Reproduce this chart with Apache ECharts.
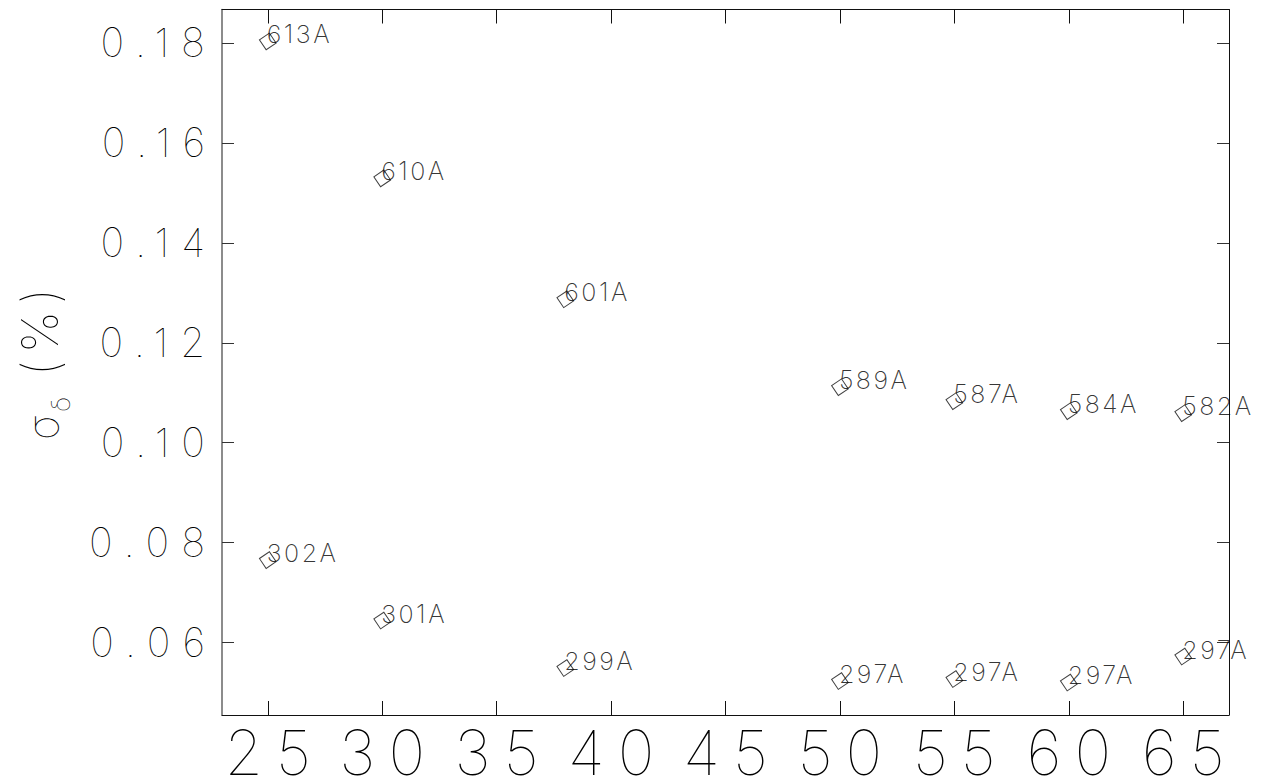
<!DOCTYPE html>
<html>
<head>
<meta charset="utf-8">
<script src="https://cdn.jsdelivr.net/npm/echarts@6/dist/echarts.min.js"></script>
<style>
  html, body { margin: 0; padding: 0; background: #fff; }
  #main { width: 1263px; height: 781px; }
  /* wide, evenly spaced lettering */
  #main text { letter-spacing: 0.1em; }
  #main text[style*="40px"] { letter-spacing: 0.3em; }
  #main text[style*="62px"] { letter-spacing: 0.21em; }
  #main text[style*="50px"] { letter-spacing: 0.14em; }
</style>
</head>
<body>
<div id="main"></div>
<script>
// Beam angle (x) and relative energy spread sigma_delta in % (y), one label per run
const angles = [25, 30, 38, 50, 55, 60, 65];
const upperLabels = ['613A', '610A', '601A', '589A', '587A', '584A', '582A'];
const upperSigma = [0.1803, 0.1529, 0.1287, 0.1111, 0.1083, 0.1063, 0.1059];
const lowerLabels = ['302A', '301A', '299A', '297A', '297A', '297A', '297A'];
const lowerSigma = [0.0765, 0.0644, 0.0549, 0.0523, 0.0527, 0.0520, 0.0572];
const xTicks = [25, 30, 35, 40, 45, 50, 55, 60, 65];
const yTicks = [0.06, 0.08, 0.10, 0.12, 0.14, 0.16, 0.18];

const FONT = 'Inter, "DejaVu Sans", sans-serif';
const INK = '#000';

const chart = echarts.init(document.getElementById('main'), null, { renderer: 'svg' });

function pointSeries(values, labels) {
  return {
    type: 'scatter',
    xAxisIndex: 0,
    yAxisIndex: 0,
    data: angles.map((a, i) => [a, values[i], labels[i]]),
    symbol: 'rect',
    symbolSize: 12,
    symbolRotate: 34,
    itemStyle: { color: 'rgba(255,255,255,0)', borderColor: '#111', borderWidth: 1 },
    label: {
      show: true,
      formatter: p => p.value[2],
      position: [8, 2],
      align: 'left',
      verticalAlign: 'middle',
      fontFamily: FONT,
      fontWeight: 200,
      fontSize: 25,
      color: INK
    },
    emphasis: { disabled: true },
    z: 3
  };
}

const frameX = (pos, showLabel) => ({
  type: 'value',
  position: pos,
  min: 23,
  max: 67,
  axisLine: { show: true, onZero: false, lineStyle: { color: '#111', width: 1 } },
  axisTick: { show: true, inside: true, length: 14, customValues: xTicks, lineStyle: { color: '#111', width: 1 } },
  axisLabel: showLabel ? {
    show: true, customValues: xTicks, margin: 14.5,
    lineHeight: 46, padding: [0, 0, 0, 13],
    fontFamily: FONT, fontWeight: 100, fontSize: 62, color: INK
  } : { show: false },
  splitLine: { show: false }
});

const frameY = (pos, showLabel, lineColor, lineWidth) => ({
  type: 'value',
  position: pos,
  min: 0.0455,
  max: 0.1867,
  axisLine: { show: true, onZero: false, lineStyle: { color: lineColor, width: lineWidth } },
  axisTick: { show: true, inside: true, length: 12, customValues: yTicks, lineStyle: { color: '#333', width: 1 } },
  axisLabel: showLabel ? {
    show: true, customValues: yTicks, margin: 5,
    formatter: v => v.toFixed(2),
    fontFamily: FONT, fontWeight: 120, fontSize: 40, color: INK
  } : { show: false },
  splitLine: { show: false }
});

chart.setOption({
  animation: false,
  backgroundColor: '#fff',
  grid: { left: 222, right: 34, top: 9.5, bottom: 66, containLabel: false, outerBoundsMode: 'none' },
  xAxis: [frameX('bottom', true), frameX('top', false)],
  yAxis: [frameY('left', true, '#666', 1.5), frameY('right', false, '#111', 1)],
  series: [pointSeries(upperSigma, upperLabels), pointSeries(lowerSigma, lowerLabels)],
  graphic: [{
    type: 'group',
    x: 43,
    y: 362,
    rotation: Math.PI / 2,
    children: [
      { type: 'text', x: -78, y: -1, style: { text: 'σ', font: '130 42px ' + FONT, fill: INK, verticalAlign: 'middle', align: 'left' } },
      { type: 'text', x: -50, y: 17, style: { text: 'δ', font: '130 26px ' + FONT, fill: INK, verticalAlign: 'middle', align: 'left' } },
      { type: 'text', x: -14, y: -3, style: { text: '(%)', font: '130 50px ' + FONT, fill: INK, verticalAlign: 'middle', align: 'left' } }
    ]
  }]
});
</script>
</body>
</html>
